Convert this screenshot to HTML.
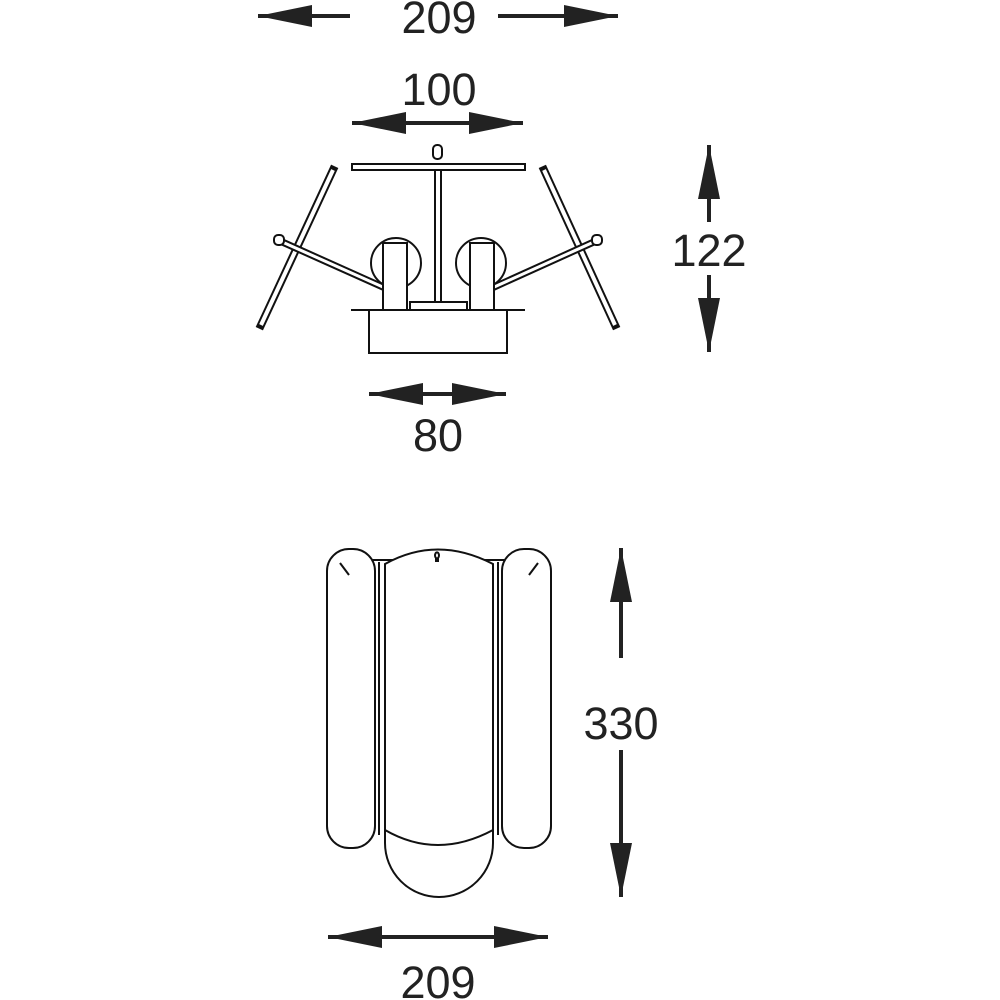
<!DOCTYPE html>
<html><head><style>html,body{margin:0;padding:0;background:#fff}svg{display:block}</style></head>
<body>
<svg width="1000" height="1000" viewBox="0 0 1000 1000" xmlns="http://www.w3.org/2000/svg">
<defs>
<marker id="ah" viewBox="0 0 54 22" refX="54" refY="11" markerWidth="54" markerHeight="22" markerUnits="userSpaceOnUse" orient="auto-start-reverse">
<path d="M0,0 L54,11 L0,22 Z" fill="#222"/>
</marker>
</defs>
<g stroke="#222" stroke-width="4" fill="none">
<line x1="350" y1="16" x2="258" y2="16" marker-end="url(#ah)"/>
<line x1="498" y1="16" x2="618" y2="16" marker-end="url(#ah)"/>
<line x1="352" y1="123" x2="523" y2="123" marker-start="url(#ah)" marker-end="url(#ah)"/>
<line x1="709" y1="222" x2="709" y2="145" marker-end="url(#ah)"/>
<line x1="709" y1="275" x2="709" y2="352" marker-end="url(#ah)"/>
<line x1="369" y1="394" x2="506" y2="394" marker-start="url(#ah)" marker-end="url(#ah)"/>
<line x1="621" y1="658" x2="621" y2="548" marker-end="url(#ah)"/>
<line x1="621" y1="750" x2="621" y2="897" marker-end="url(#ah)"/>
<line x1="328" y1="937" x2="548" y2="937" marker-start="url(#ah)" marker-end="url(#ah)"/>
</g>
<g font-family="Liberation Sans, sans-serif" font-size="45" fill="#222" text-anchor="middle">
<text x="439" y="33">209</text>
<text x="439" y="105">100</text>
<text x="709" y="266">122</text>
<text x="438" y="451">80</text>
<text x="621" y="739">330</text>
<text x="438" y="998">209</text>
</g>
<g stroke="#111" stroke-width="2" fill="#fff">
<line x1="333" y1="170" x2="261" y2="325" stroke-width="8" stroke-linecap="square"/>
<line x1="333" y1="170" x2="261" y2="325" stroke="#fff" stroke-width="4"/>
<line x1="544" y1="170" x2="615" y2="325" stroke-width="8" stroke-linecap="square"/>
<line x1="544" y1="170" x2="615" y2="325" stroke="#fff" stroke-width="4"/>
<line x1="280" y1="241" x2="385" y2="288" stroke-width="7"/>
<line x1="280" y1="241" x2="385" y2="288" stroke="#fff" stroke-width="3"/>
<line x1="596" y1="241" x2="492" y2="288" stroke-width="7"/>
<line x1="596" y1="241" x2="492" y2="288" stroke="#fff" stroke-width="3"/>
<rect x="274" y="235" width="10" height="10" rx="4"/>
<rect x="592" y="235" width="10" height="10" rx="4"/>
<rect x="352" y="164" width="173" height="6"/>
<rect x="435" y="170" width="6" height="132"/>
<rect x="433" y="145" width="9" height="14" rx="4"/>
<circle cx="396" cy="263" r="25"/>
<circle cx="481" cy="263" r="25"/>
<rect x="383" y="243" width="24" height="67"/>
<rect x="470" y="243" width="24" height="67"/>
<rect x="410" y="302" width="57" height="8"/>
<rect x="369" y="310" width="138" height="43"/>
<line x1="351" y1="310" x2="525" y2="310"/>
<line x1="372" y1="560" x2="505" y2="560"/>
<rect x="327" y="549" width="48" height="299" rx="22"/>
<rect x="502" y="549" width="49" height="299" rx="22"/>
<line x1="379" y1="562" x2="379" y2="835"/>
<line x1="498" y1="562" x2="498" y2="835"/>
<path d="M385,564 Q437,535 493,564 L493,843 A54,54 0 0 1 385,843 Z"/>
<path d="M385,830 Q437,860 493,830" fill="none"/>
<path d="M436,562 v-4 a2,3 0 1 1 2,0 v4" fill="none"/>
<line x1="340" y1="563" x2="349" y2="575"/>
<line x1="538" y1="563" x2="529" y2="575"/>
</g>
</svg>
</body></html>
